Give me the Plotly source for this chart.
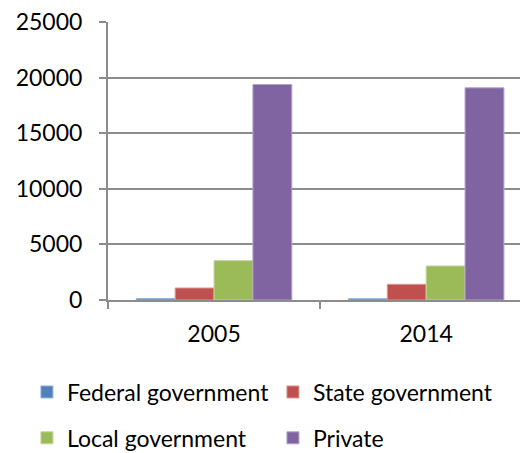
import plotly.graph_objects as go

years = ["2005", "2014"]
federal = [130, 120]
state = [1080, 1410]
local = [3540, 3060]
private = [19380, 19080]
ytickvals = [0, 5000, 10000, 15000, 20000, 25000]
yticktext = ["0", "5000", "10000", "15000", "20000", "25000"]

series = [
    ("Federal government", federal, "#4F81BD", "#95B3D7", "legend"),
    ("State government", state, "#C0504D", "#D99694", "legend"),
    ("Local government", local, "#9BBB59", "#C3D69B", "legend2"),
    ("Private", private, "#8064A2", "#B3A2C7", "legend2"),
]

fig = go.Figure()
for name, vals, col, lcol, lg in series:
    fig.add_trace(go.Bar(
        x=years, y=vals, name=name, legend=lg,
        marker=dict(color=col, line=dict(color=lcol, width=1)),
    ))

font = dict(family="Lato", size=23, color="#000000")
axcol = "#8c8c8c"

# page has an 8px body margin, so the figure is sized/offset to compensate
W, H = 520, 445

fig.update_layout(
    width=W, height=H,
    margin=dict(l=100, r=0, t=14, b=153, autoexpand=False),
    paper_bgcolor="white", plot_bgcolor="white",
    font=font,
    barmode="group", bargap=0.267, bargroupgap=0,
    xaxis=dict(
        type="category", range=[-0.5, 1.48],
        showline=True, linecolor=axcol, linewidth=2,
        ticks="outside", tickson="boundaries", ticklen=7, tickcolor=axcol, tickwidth=2,
        showgrid=False, tickfont=font, ticklabelstandoff=12,
    ),
    yaxis=dict(
        range=[0, 25000], tickvals=ytickvals, ticktext=yticktext,
        showline=True, linecolor=axcol, linewidth=2,
        ticks="outside", ticklen=7, tickcolor=axcol, tickwidth=2,
        showgrid=True, gridcolor=axcol, gridwidth=1.5,
        zeroline=False, tickfont=font, ticklabelstandoff=12,
        ticklabeloverflow="allow",
    ),
    legend=dict(
        orientation="h", xref="paper", yref="paper",
        x=-0.193, xanchor="left", y=-0.331, yanchor="middle",
        font=font, entrywidth=201, entrywidthmode="pixels",
        bgcolor="rgba(0,0,0,0)",
    ),
    legend2=dict(
        orientation="h", xref="paper", yref="paper",
        x=-0.193, xanchor="left", y=-0.496, yanchor="middle",
        font=font, entrywidth=201, entrywidthmode="pixels",
        bgcolor="rgba(0,0,0,0)",
    ),
)

fig.write_html("out.html")
